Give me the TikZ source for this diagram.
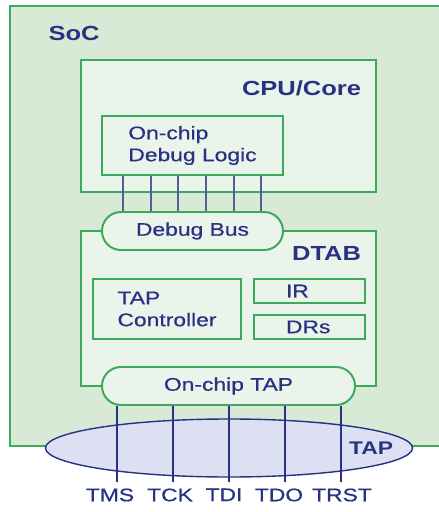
\documentclass[tikz,border=0pt]{standalone}
\usepackage{fontspec}
\setmainfont{Liberation Sans}[FakeStretch=1.25, UprightFeatures={FakeBold=0.6}]
\usetikzlibrary{shapes.geometric}

\definecolor{socfill}{RGB}{216,233,213}
\definecolor{corefill}{RGB}{235,244,235}
\definecolor{edgegreen}{RGB}{60,170,90}
\definecolor{navy}{RGB}{40,50,130}
\definecolor{buswire}{RGB}{80,95,155}
\definecolor{tapfill}{RGB}{220,224,242}

\tikzset{
  block/.style={draw=edgegreen, line width=1.4pt, fill=corefill, inner sep=0pt},
  busbox/.style={block, rounded corners=0.475cm, minimum height=0.95cm},
  regbox/.style={block, minimum width=2.775cm, minimum height=0.6cm, text width=1.175cm, align=left},
  title/.style={font=\fontsize{14.5}{17}\selectfont\bfseries, text=navy},
  txt/.style={font=\fontsize{13}{15.6}\selectfont, text=navy},
  pin/.style={txt, anchor=north, inner sep=3pt},
  wire/.style={buswire, line width=1.1pt},
  sig/.style={navy, line width=2pt}
}

\begin{document}
\begin{tikzpicture}[x=0.025cm,y=-0.025cm]
\useasboundingbox (0,0) rectangle (439,512);
\clip (0,0) rectangle (439,512);

% chip outline
\draw[fill=socfill, draw=edgegreen, line width=1.4pt] (10,6) rectangle (460,446);
\node[title] (soc) at (74,33) {SoC};

% processor with its debug logic
\node[block, minimum width=7.375cm, minimum height=3.3cm] (cpu) at (228.5,126) {};
\node[title, anchor=east] (cpulbl) at (366,88) {CPU/Core};
\node[block, txt, minimum width=4.525cm, minimum height=1.475cm, align=left] (dbg) at (192.5,145.5)
  {On-chip\\Debug Logic};

% debug access block
\node[block, minimum width=7.375cm, minimum height=3.875cm] (dtab) at (228.5,308.5) {};
\node[title, anchor=east] (dtablbl) at (366,253) {DTAB};
\node[block, txt, minimum width=3.7cm, minimum height=1.5cm, align=left] (tapc) at (167,309)
  {TAP\\Controller};
\node[regbox, txt] (ir) at (309.5,291) {IR};
\node[regbox, txt] (drs) at (309.5,327) {DRs};

\node[busbox, txt, minimum width=4.525cm] (bus) at (192.5,231) {Debug Bus};
\node[busbox, txt, minimum width=6.325cm] (otap) at (228.5,386) {On-chip TAP};

\foreach \x [count=\i] in {123,151,178,206,234,261} {
  \coordinate (b\i) at (\x,0);
  \draw[wire] (dbg.south -| b\i) -- (bus.north -| b\i);
}

% external port
\node[ellipse, draw=navy, fill=tapfill, line width=1pt, minimum width=9.175cm,
  minimum height=1.45cm, inner sep=0pt] (tap) at (229,448) {};
\node[title, font=\fontsize{13}{15}\selectfont\bfseries] (taplbl) at (371,448) {TAP};

% JTAG pins, labels sit a little left of their wires
\foreach \x/\lx/\name in {117/110/TMS,173/170/TCK,229/224/TDI,285/279/TDO,341/342/TRST} {
  \node[pin] (\name) at (\lx,484) {\name};
  \coordinate (\name end) at (\x,482);
  \draw[sig] (otap.south -| \name end) -- (\name end);
}
\end{tikzpicture}
\end{document}
